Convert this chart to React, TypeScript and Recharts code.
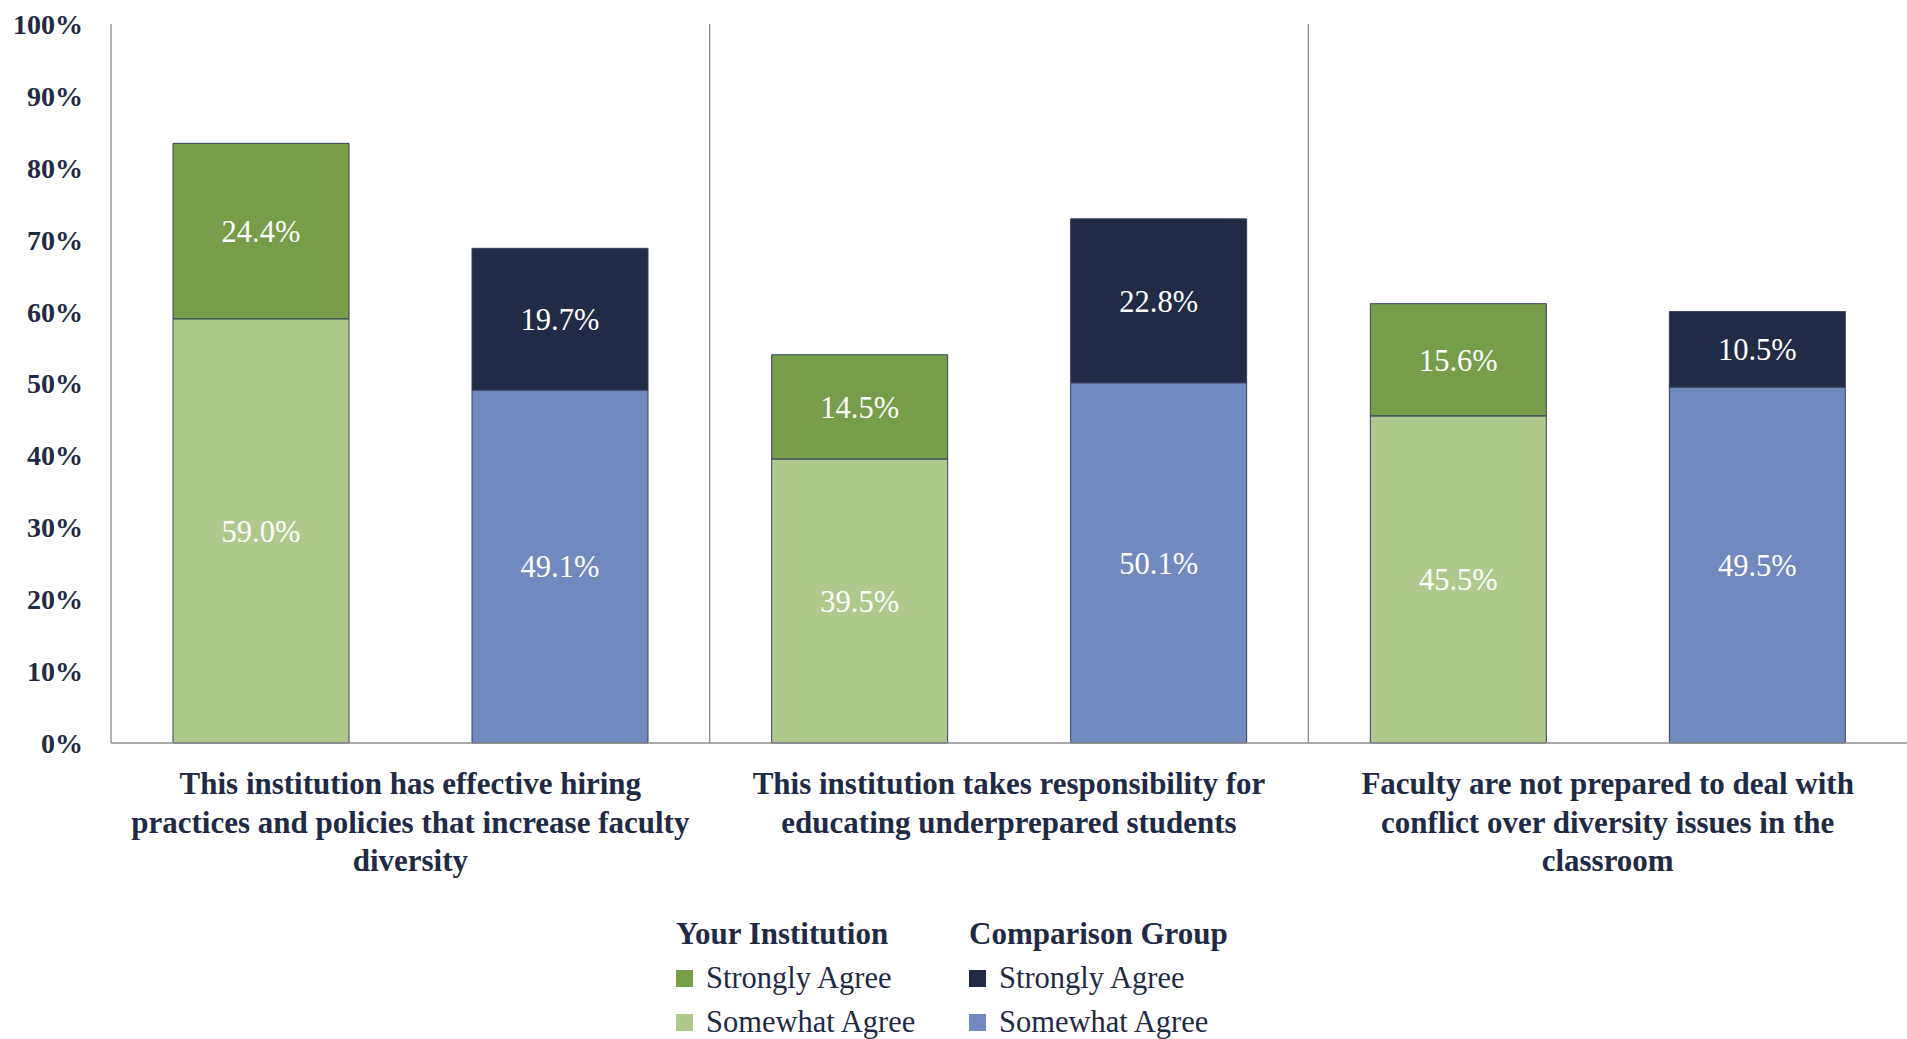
import React from "react";
import { BarChart, Bar, XAxis, YAxis, CartesianGrid, Legend, LabelList } from "recharts";

// statements (line breaks as in the report)
const categories = [
  "This institution has effective hiring\npractices and policies that increase faculty\ndiversity",
  "This institution takes responsibility for\neducating underprepared students",
  "Faculty are not prepared to deal with\nconflict over diversity issues in the\nclassroom",
];

const instSomewhat = [59.0, 39.5, 45.5];
const instStrongly = [24.4, 14.5, 15.6];
const compSomewhat = [49.1, 50.1, 49.5];
const compStrongly = [19.7, 22.8, 10.5];

const yTicks = [0, 10, 20, 30, 40, 50, 60, 70, 80, 90, 100];

const groupNames = ["Your Institution", "Comparison Group"];
const itemNames = ["Strongly Agree", "Somewhat Agree"];

const FONT = "'Liberation Serif', 'Times New Roman', serif";
const NAVY = "#1F2A44";
const GRAY = "#8C8C8C";
const BAR_STROKE = "#34405A";

const colors = {
  instStrongly: "#789D4A",
  instSomewhat: "#AFC98D",
  compStrongly: "#212B45",
  compSomewhat: "#7289C0",
};

const data = categories.map((name, i) => ({
  name,
  instSomewhat: instSomewhat[i],
  instStrongly: instStrongly[i],
  compSomewhat: compSomewhat[i],
  compStrongly: compStrongly[i],
}));

const pct = (v: any) => Number(v).toFixed(1) + "%";

function CategoryTick(props: any) {
  const { x, y, payload } = props;
  const lines = String(payload.value).split("\n");
  return (
    <text x={x} y={y} textAnchor="middle" fill={NAVY} fontFamily={FONT} fontSize={31} fontWeight="bold">
      {lines.map((l, i) => (
        <tspan key={i} x={x} y={y + 51 + i * 38.5}>
          {l}
        </tspan>
      ))}
    </text>
  );
}

function GroupedLegend() {
  const cols = [
    [colors.instStrongly, colors.instSomewhat],
    [colors.compStrongly, colors.compSomewhat],
  ];
  return (
    <div style={{ display: "flex", fontFamily: FONT, color: NAVY, fontSize: 30.5, lineHeight: "44px" }}>
      {groupNames.map((g, gi) => (
        <div key={g} style={{ width: gi === 0 ? 293 : "auto" }}>
          <div style={{ fontWeight: "bold", fontSize: 31, whiteSpace: "nowrap" }}>{g}</div>
          {itemNames.map((n, ni) => (
            <div key={n} style={{ display: "flex", alignItems: "center", whiteSpace: "nowrap" }}>
              <span style={{ display: "inline-block", width: 17, height: 17, background: cols[gi][ni], marginRight: 13 }} />
              {n}
            </div>
          ))}
        </div>
      ))}
    </div>
  );
}

export default function App() {
  return (
    <div style={{ position: "absolute", left: 0, top: 0, background: "#fff" }}>
      <BarChart
        width={1907}
        height={1039}
        data={data}
        margin={{ top: 24, right: 0, left: 0, bottom: 0 }}
        barCategoryGap={62}
        barGap={123}
      >
        <CartesianGrid
          horizontal={false}
          stroke={GRAY}
          strokeWidth={1.3}
          verticalCoordinatesGenerator={({ offset }: any) => [
            offset.left + offset.width / 3,
            offset.left + (2 * offset.width) / 3,
          ]}
        />
        <XAxis
          dataKey="name"
          interval={0}
          height={296}
          tickLine={false}
          tickSize={0}
          tickMargin={0}
          axisLine={{ stroke: GRAY, strokeWidth: 1.3 }}
          tick={<CategoryTick />}
        />
        <YAxis
          width={111}
          domain={[0, 100]}
          ticks={yTicks}
          interval={0}
          tickFormatter={(v) => v + "%"}
          tickLine={false}
          tickSize={0}
          tickMargin={28}
          axisLine={{ stroke: GRAY, strokeWidth: 1.3 }}
          tick={{ fill: NAVY, fontFamily: FONT, fontSize: 28, fontWeight: "bold" }}
        />
        <Legend
          layout="horizontal"
          verticalAlign="middle"
          align="center"
          content={<GroupedLegend />}
          wrapperStyle={{ left: 676, top: 912, width: "auto" }}
        />
        <Bar dataKey="instSomewhat" stackId="inst" fill={colors.instSomewhat} stroke={BAR_STROKE} strokeWidth={1} isAnimationActive={false}>
          <LabelList dataKey="instSomewhat" position="center" formatter={pct} fill="#fff" fontFamily={FONT} fontSize={30.5} />
        </Bar>
        <Bar dataKey="instStrongly" stackId="inst" fill={colors.instStrongly} stroke={BAR_STROKE} strokeWidth={1} isAnimationActive={false}>
          <LabelList dataKey="instStrongly" position="center" formatter={pct} fill="#fff" fontFamily={FONT} fontSize={30.5} />
        </Bar>
        <Bar dataKey="compSomewhat" stackId="comp" fill={colors.compSomewhat} stroke={BAR_STROKE} strokeWidth={1} isAnimationActive={false}>
          <LabelList dataKey="compSomewhat" position="center" formatter={pct} fill="#fff" fontFamily={FONT} fontSize={30.5} />
        </Bar>
        <Bar dataKey="compStrongly" stackId="comp" fill={colors.compStrongly} stroke={BAR_STROKE} strokeWidth={1} isAnimationActive={false}>
          <LabelList dataKey="compStrongly" position="center" formatter={pct} fill="#fff" fontFamily={FONT} fontSize={30.5} />
        </Bar>
      </BarChart>
    </div>
  );
}
